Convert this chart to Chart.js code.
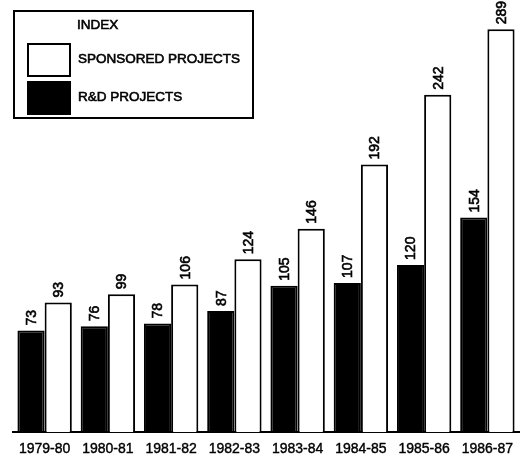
<!DOCTYPE html>
<html>
<head>
<meta charset="utf-8">
<script src="https://cdn.jsdelivr.net/npm/chart.js@4.4.0/dist/chart.umd.min.js"></script>
<style>
  html, body { margin: 0; padding: 0; background: #fff; }
  #wrap { width: 523px; height: 457px; }
</style>
</head>
<body>
<div id="wrap"><canvas id="c" width="523" height="457"></canvas></div>
<script>
// Fiscal years shown along the bottom
const years = ['1979-80', '1980-81', '1981-82', '1982-83', '1983-84', '1984-85', '1985-86', '1986-87'];
// Index values per year
const rdProjects = [73, 76, 78, 87, 105, 107, 120, 154];
const sponsoredProjects = [93, 99, 106, 124, 146, 192, 242, 289];
// Legend entries (drawn in this order)
const legendTitle = 'INDEX';
const legendLabels = ['SPONSORED PROJECTS', 'R&D PROJECTS'];

const FONT = '"Liberation Sans", Arial, sans-serif';

// Fill text with a thin outline so it reads a little heavier
function heavyText(ctx, text, x, y, w) {
  ctx.fillText(text, x, y);
  ctx.lineWidth = w || 0.6;
  ctx.strokeStyle = '#000';
  ctx.strokeText(text, x, y);
}

// Rotated value labels above each bar
const valueLabels = {
  id: 'valueLabels',
  afterDatasetsDraw(chart) {
    const ctx = chart.ctx;
    ctx.save();
    ctx.fillStyle = '#000';
    ctx.font = '14px ' + FONT;
    ctx.textAlign = 'left';
    ctx.textBaseline = 'middle';
    chart.data.datasets.forEach((ds, di) => {
      const meta = chart.getDatasetMeta(di);
      meta.data.forEach((bar, i) => {
        ctx.save();
        ctx.translate(bar.x + 1, bar.y - 5);
        ctx.rotate(-Math.PI / 2);
        heavyText(ctx, String(ds.data[i]), 0, 0);
        ctx.restore();
      });
    });
    ctx.restore();
  }
};

// Boxed key in the upper-left corner
const indexBox = {
  id: 'indexBox',
  afterDraw(chart) {
    const ctx = chart.ctx;
    const ds = chart.data.datasets;
    ctx.save();
    ctx.strokeStyle = '#000';
    ctx.lineWidth = 2;
    ctx.strokeRect(14, 11, 239, 107);
    ctx.fillStyle = '#000';
    ctx.font = '13.5px ' + FONT;
    ctx.textBaseline = 'middle';
    ctx.textAlign = 'left';
    heavyText(ctx, legendTitle, 77, 25);
    const rows = [
      { ds: ds[1], y: 44, text: legendLabels[0] },
      { ds: ds[0], y: 82, text: legendLabels[1] }
    ];
    rows.forEach(r => {
      ctx.fillStyle = r.ds.backgroundColor;
      ctx.fillRect(28, r.y, 42, 32);
      ctx.lineWidth = 2;
      ctx.strokeStyle = '#000';
      ctx.strokeRect(28, r.y, 42, 32);
      ctx.fillStyle = '#000';
      heavyText(ctx, r.text, 78, r.y + 15);
    });
    ctx.restore();
  }
};

// Year labels under the axis, drawn at each category tick
const yearLabels = {
  id: 'yearLabels',
  afterDraw(chart) {
    const ctx = chart.ctx;
    const xs = chart.scales.x;
    ctx.save();
    ctx.fillStyle = '#000';
    ctx.font = '14px ' + FONT;
    ctx.textAlign = 'center';
    ctx.textBaseline = 'middle';
    chart.data.labels.forEach((lab, i) => {
      heavyText(ctx, lab, xs.getPixelForTick(i), 449, 0.4);
    });
    ctx.restore();
  }
};

new Chart(document.getElementById('c'), {
  type: 'bar',
  data: {
    labels: years,
    datasets: [
      {
        label: legendLabels[1],
        data: rdProjects,
        backgroundColor: '#000',
        borderColor: '#000',
        borderWidth: 2,
        borderSkipped: 'bottom'
      },
      {
        label: legendLabels[0],
        data: sponsoredProjects,
        backgroundColor: '#fff',
        borderColor: '#000',
        borderWidth: 2,
        borderSkipped: 'bottom'
      }
    ]
  },
  options: {
    responsive: false,
    animation: false,
    devicePixelRatio: 1,
    layout: { padding: { top: 14, left: 13, right: 4, bottom: 0 } },
    datasets: {
      bar: { categoryPercentage: 0.86, barPercentage: 1.0 }
    },
    plugins: {
      legend: { display: false },
      tooltip: { enabled: false }
    },
    scales: {
      x: {
        grid: { display: false, drawTicks: false },
        border: { display: true, color: '#000', width: 2 },
        ticks: { color: 'rgba(0,0,0,0)', font: { family: FONT, size: 14 }, padding: 4, maxRotation: 0, autoSkip: false }
      },
      y: {
        display: false,
        min: 0,
        max: 300
      }
    }
  },
  plugins: [valueLabels, indexBox, yearLabels]
});
</script>
</body>
</html>
